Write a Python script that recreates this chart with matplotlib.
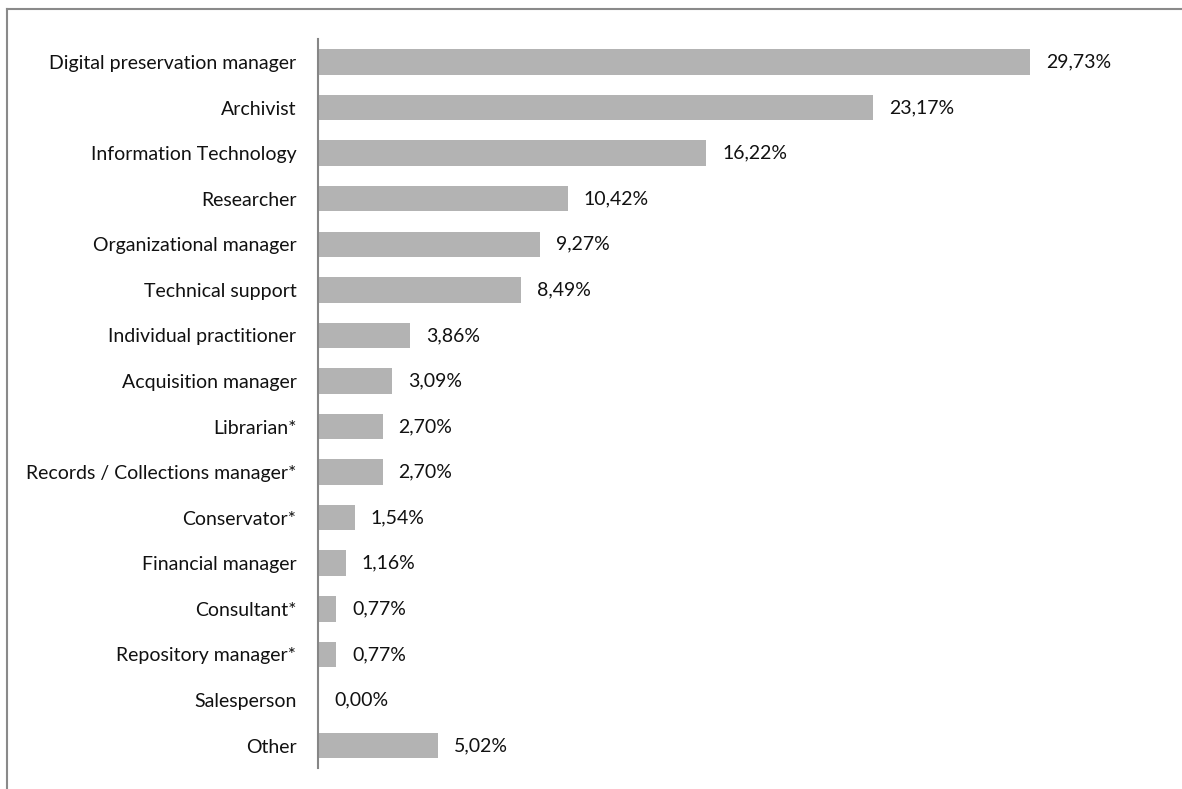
import matplotlib
matplotlib.use("Agg")
import matplotlib.pyplot as plt
from matplotlib.lines import Line2D

categories = [
    "Digital preservation manager", "Archivist", "Information Technology",
    "Researcher", "Organizational manager", "Technical support",
    "Individual practitioner", "Acquisition manager", "Librarian*",
    "Records / Collections manager*", "Conservator*", "Financial manager",
    "Consultant*", "Repository manager*", "Salesperson", "Other",
]
values = [29.73, 23.17, 16.22, 10.42, 9.27, 8.49, 3.86, 3.09, 2.70,
          2.70, 1.54, 1.16, 0.77, 0.77, 0.00, 5.02]

W, H = 1182, 789
fig = plt.figure(figsize=(W / 100, H / 100), dpi=100)
plt.rcParams["font.family"] = ["Lato", "DejaVu Sans"]

ax_left, ax_right = 318, 318 + 35 * 23.95
ax_top, ax_bottom = 39.2, 768.3
ax = fig.add_axes([ax_left / W, 1 - ax_bottom / H,
                   (ax_right - ax_left) / W, (ax_bottom - ax_top) / H])

ypos = list(range(len(categories)))
ax.barh(ypos, values, height=0.56, color="#b3b3b3", edgecolor="none")
ax.set_xlim(0, 35)
ax.set_ylim(len(categories) - 0.5, -0.5)

for y, v in zip(ypos, values):
    ax.annotate(f"{v:.2f}%".replace(".", ","), (v, y), xytext=(11.5, 0),
                textcoords="offset points", ha="left", va="center",
                fontsize=14, color="#111111")

ax.set_yticks(ypos)
ax.set_yticklabels(categories, fontsize=14, color="#111111")
ax.tick_params(axis="y", length=0, pad=15.5)
ax.set_xticks([])
for side in ("top", "right", "bottom"):
    ax.spines[side].set_visible(False)
ax.spines["left"].set_color("#868686")
ax.spines["left"].set_linewidth(1.5)

# partial frame along the top and left edges
fig.add_artist(Line2D([7 / W, 1], [1 - 9 / H, 1 - 9 / H], color="#8a8a8a",
                      lw=1.5, transform=fig.transFigure))
fig.add_artist(Line2D([7 / W, 7 / W], [0, 1 - 9 / H], color="#8a8a8a",
                      lw=1.5, transform=fig.transFigure))

fig.savefig("out.png", dpi=100)
